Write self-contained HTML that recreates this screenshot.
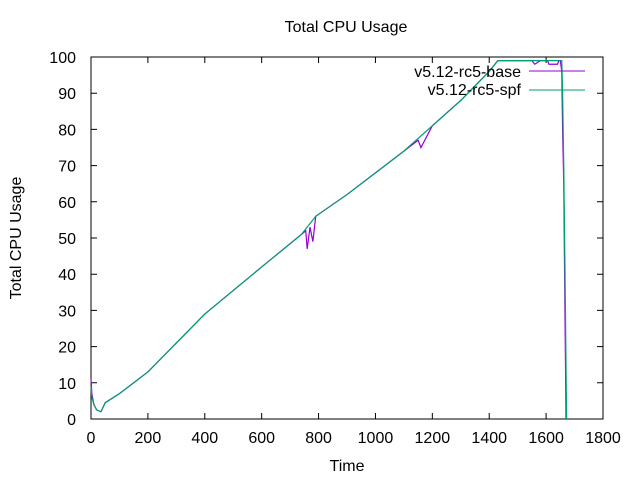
<!DOCTYPE html>
<html><head><meta charset="utf-8"><style>
body{margin:0;background:#fff;font-family:"Liberation Sans",sans-serif}
text{font-family:"Liberation Sans",sans-serif;font-size:16px;fill:#000}
</style></head><body>
<svg id="chart" width="640" height="480" viewBox="0 0 640 480">
<rect width="640" height="480" fill="#fff"/>
<text x="346" y="32" text-anchor="middle">Total CPU Usage</text>
<text x="347" y="471" text-anchor="middle">Time</text>
<text x="21" y="238" text-anchor="middle" transform="rotate(-90 21 238)">Total CPU Usage</text>
<g id="axes"></g>
<g id="series"></g>
<g>
<text x="521" y="77" text-anchor="end">v5.12-rc5-base</text>
<line x1="529" y1="71" x2="585" y2="71" stroke="#9400d3" stroke-width="1"/>
<text x="521" y="95" text-anchor="end">v5.12-rc5-spf</text>
<line x1="529" y1="90" x2="585" y2="90" stroke="#009e73" stroke-width="1"/>
</g>
</svg>
<script>
const xTicks=[0,200,400,600,800,1000,1200,1400,1600,1800];
const yTicks=[0,10,20,30,40,50,60,70,80,90,100];
const baseT=[0,3,10,20,35,50,100,200,400,600,740,755,760,770,780,790,900,1000,1100,1150,1160,1200,1300,1400,1430,1550,1560,1580,1605,1610,1640,1645,1650,1655,1658,1662,1665,1670];
const baseV=[11,7,4,2.5,2,4.5,7,13,29,42,51,52,47,53,49,56,62,68,74,77,75,81,88,96,99,99,98,99,99,98,98,99,99,96,80,65,40,0];
const spfT=[0,3,10,20,35,50,100,200,400,600,740,790,900,1000,1100,1200,1300,1400,1430,1655,1658,1662,1665,1668,1670,1672];
const spfV=[9,6,4,2.5,2,4.5,7,13,29,42,51,56,62,68,74,81,88,96,99,99,90,70,50,30,14,0];
const X0=91,X1=603,Y0=419,Y1=57;
const sx=t=>X0+t*(X1-X0)/1800, sy=v=>Y0-v*(Y0-Y1)/100;
const NS="http://www.w3.org/2000/svg";
const ax=document.getElementById('axes');
function mk(tag,a,p){const e=document.createElementNS(NS,tag);for(const k in a)e.setAttribute(k,a[k]);p.appendChild(e);return e;}
const frame=mk('rect',{x:X0,y:Y1,width:X1-X0,height:Y0-Y1,fill:'none',stroke:'#000','stroke-width':1},ax);


xTicks.forEach(t=>{const x=sx(t);
const l=mk('path',{d:`M${x},${Y0}v-6M${x},${Y1}v6`,stroke:'#000'},ax);


const tx=mk('text',{x:x,y:Y0+24,'text-anchor':'middle'},ax);tx.textContent=t;

});
yTicks.forEach(v=>{const y=sy(v);
const l=mk('path',{d:`M${X0},${y}h6M${X1},${y}h-6`,stroke:'#000'},ax);


const tx=mk('text',{x:X0-15,y:y+6,'text-anchor':'end'},ax);tx.textContent=v;

});
const sg=document.getElementById('series');
function line(T,V,c,name){const p=mk('polyline',{points:T.map((t,i)=>sx(t)+','+sy(V[i])).join(' '),fill:'none',stroke:c,'stroke-width':1.2},sg);

}
line(baseT,baseV,'#9400d3','series-base-line');
line(spfT,spfV,'#009e73','series-spf-line');
</script>
</body></html>
